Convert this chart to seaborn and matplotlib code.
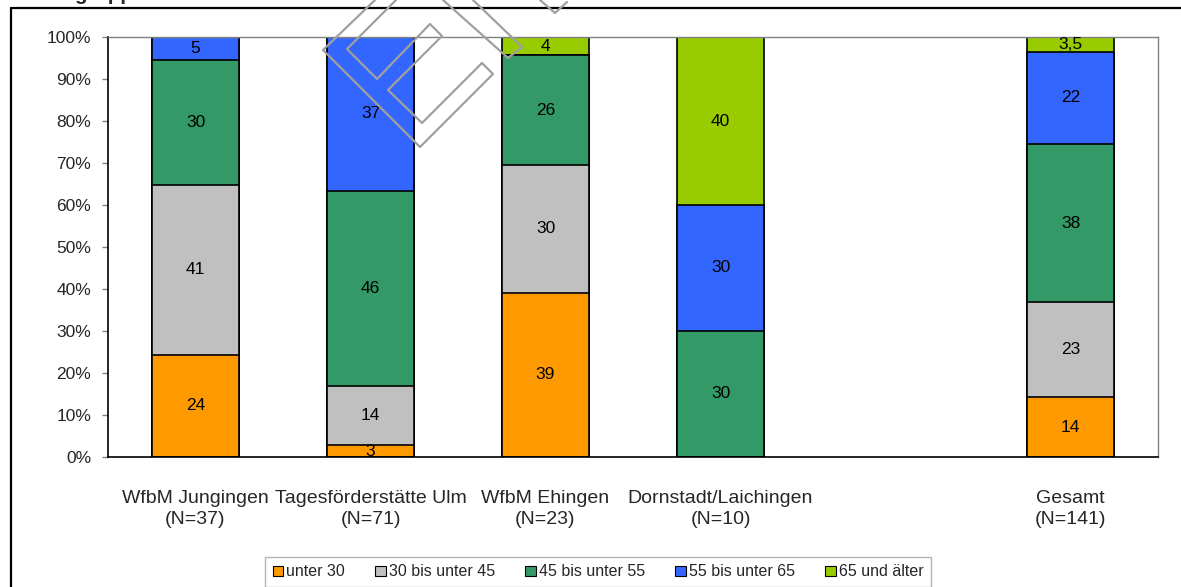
import numpy as np
import pandas as pd
import seaborn as sns
import matplotlib.pyplot as plt
from matplotlib.patches import Patch
from matplotlib.lines import Line2D

# data (percent per age group, labels as printed in the chart)
categories = ["WfbM Jungingen\n(N=37)", "Tagesförderstätte Ulm\n(N=71)", "WfbM Ehingen\n(N=23)",
              "Dornstadt/Laichingen\n(N=10)", "Gesamt\n(N=141)"]
order = categories[:4] + [" "] + categories[4:]
groups = ["unter 30", "30 bis unter 45", "45 bis unter 55", "55 bis unter 65", "65 und älter"]
unter30 = [24.3, 2.8, 39.1, 0, 14.2]
von30_45 = [40.5, 14.1, 30.4, 0, 22.7]
von45_55 = [29.7, 46.5, 26.1, 30, 37.6]
von55_65 = [5.4, 36.6, 0, 30, 22.0]
ab65 = [0, 0, 4.3, 40, 3.5]
lab_unter30 = ["24", "3", "39", "", "14"]
lab_30_45 = ["41", "14", "30", "", "23"]
lab_45_55 = ["30", "46", "26", "30", "38"]
lab_55_65 = ["5", "37", "", "30", "22"]
lab_ab65 = ["", "", "4", "40", "3,5"]
colors = ["#FF9900", "#C0C0C0", "#339966", "#3366FF", "#99CC00"]

series = [unter30, von30_45, von45_55, von55_65, ab65]
labels = [lab_unter30, lab_30_45, lab_45_55, lab_55_65, lab_ab65]

sns.set_theme(style="white")
plt.rcParams["font.family"] = ["Liberation Sans", "DejaVu Sans"]

W, H = 1181, 587
fig = plt.figure(figsize=(W / 100, H / 100), dpi=100)
ax = fig.add_axes([108 / W, 1 - 457 / H, 1050 / W, 420 / H])

cum = np.cumsum(np.array(series), axis=0)
# draw cumulative bars from the top group down so each one covers the next
for i in range(len(groups) - 1, -1, -1):
    sns.barplot(x=categories, y=cum[i], order=order, color=colors[i], saturation=1,
                width=0.5, edgecolor="black", linewidth=1.2, ax=ax)

pos = {c: k for k, c in enumerate(order)}
for i in range(len(groups)):
    for j, c in enumerate(categories):
        if labels[i][j]:
            ax.text(pos[c], cum[i][j] - series[i][j] / 2, labels[i][j], ha="center",
                    va="center", fontsize=12.5, color="black")

ax.set_xlim(-0.5, len(order) - 0.5)
ax.set_ylim(0, 100)
ax.set_yticks(range(0, 101, 10))
ax.set_yticklabels([f"{t}%" for t in range(0, 101, 10)], fontsize=12.5)
ax.set_xticks(range(len(order)))
ax.set_xticklabels(order, fontsize=14, linespacing=1.3)
ax.set_xlabel("")
ax.set_ylabel("")
ax.tick_params(axis="x", length=0, pad=24)
ax.tick_params(axis="y", length=4, width=1, color="#808080", pad=8, left=True)
for s in ["top", "right"]:
    ax.spines[s].set_color("#808080")
    ax.spines[s].set_linewidth(1)
for s in ["left", "bottom"]:
    ax.spines[s].set_color("black")
    ax.spines[s].set_linewidth(1.2)

handles = [Patch(facecolor=c, edgecolor="black", linewidth=0.8) for c in colors]
fig.legend(handles, groups, loc="center", bbox_to_anchor=(598 / W, 1 - 572 / H), ncol=5,
           fontsize=11.5, frameon=True, fancybox=False, edgecolor="#a0a0a0",
           handlelength=0.65, handleheight=0.65, handletextpad=0.2, columnspacing=1.9,
           borderpad=0.45)

# outer frame and cut-off title
fig.add_artist(Line2D([11 / W, 11 / W], [0, 1 - 8 / H], color="black", lw=1.6))
fig.add_artist(Line2D([11 / W, 1], [1 - 8 / H, 1 - 8 / H], color="black", lw=1.6))
fig.text(17 / W, 1 - 0.5 / H, "Altersgruppen", fontsize=14.8, fontweight="bold", va="baseline")

# grey watermark outlines
marks = [
    [(375, 0), (323, 50), (420, 147), (493, 74), (482, 63), (422, 123), (388, 90),
     (442, 36), (430, 24), (377, 79), (347, 49), (396, 0)],
    [(443, 0), (508, 58), (522, 47), (473, 0)],
    [(540, 0), (555, 13), (567, 2)],
]
for m in marks:
    xs = [p[0] / W for p in m]
    ys = [1 - p[1] / H for p in m]
    fig.add_artist(Line2D(xs, ys, color="#a0a0a0", lw=1.6, zorder=10))

plt.savefig("out.png", dpi=100)
